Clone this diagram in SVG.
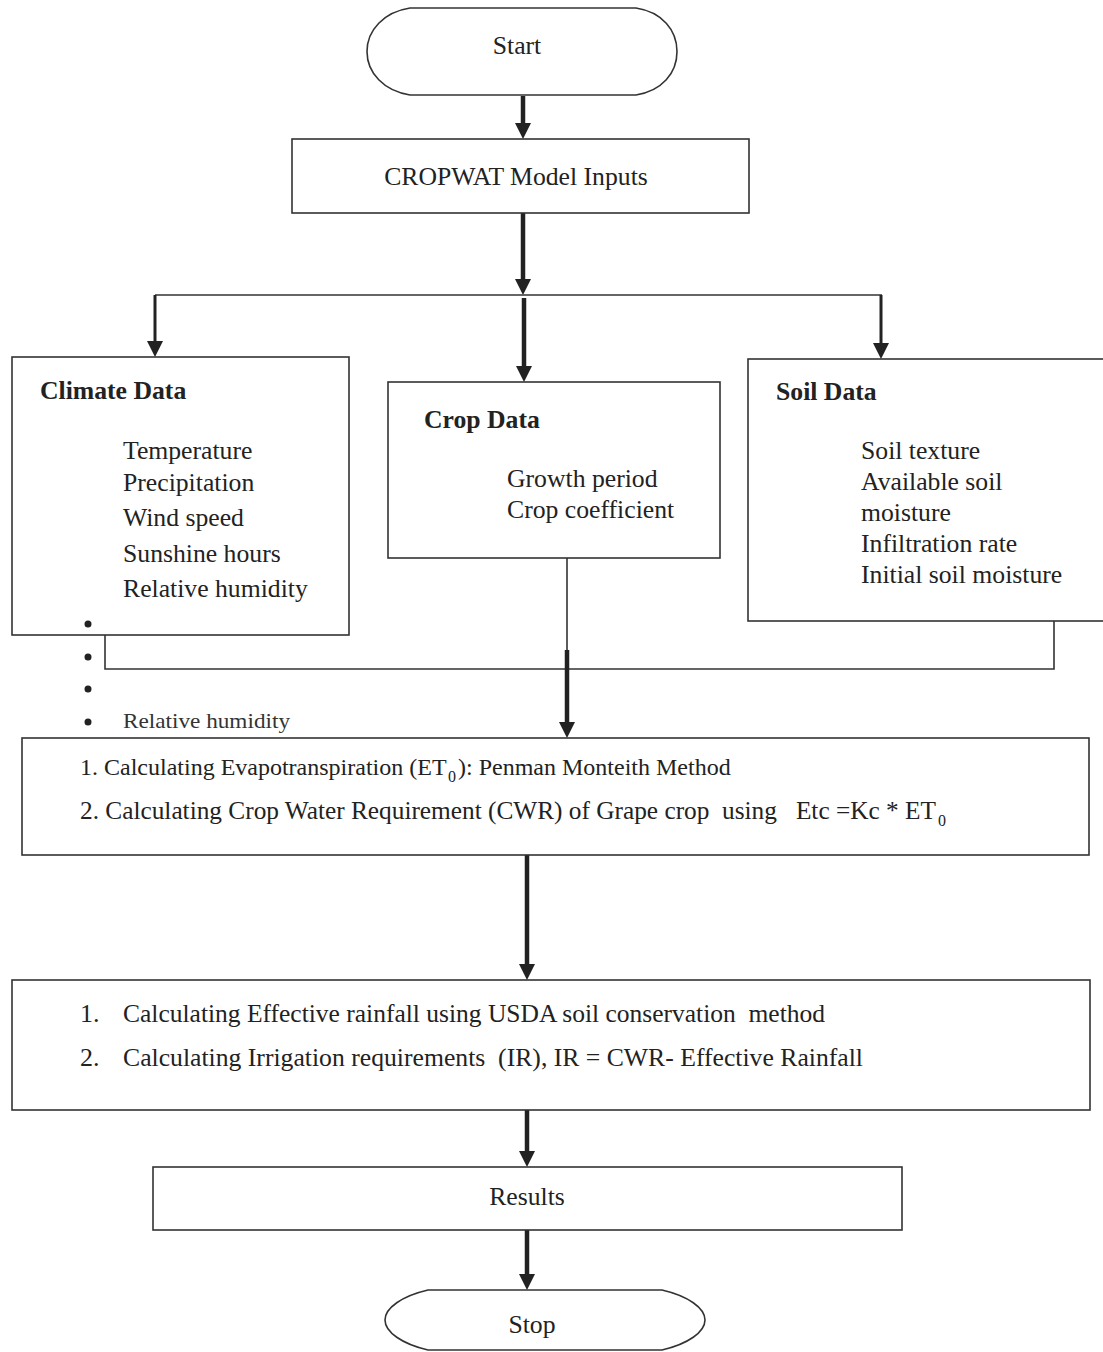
<svg xmlns="http://www.w3.org/2000/svg" width="1103" height="1352" viewBox="0 0 1103 1352">
<style>
.box{fill:#fff;stroke:#333;stroke-width:1.6}
.t{font-family:"Liberation Serif","Times New Roman",serif;fill:#222;font-size:25.7px}
.b{font-weight:bold}
.c{font-size:26px;white-space:pre}
.c24{font-size:24px;white-space:pre}
.c25{font-size:25px;white-space:pre}
.s{font-size:16px}
.thick{stroke:#222;stroke-width:4.5;fill:none}
.med{stroke:#222;stroke-width:3;fill:none}
.thin{stroke:#333;stroke-width:1.6;fill:none}
</style>
<defs>
<marker id="ah" viewBox="0 0 16 16" refX="8" refY="8" markerWidth="16" markerHeight="16" markerUnits="userSpaceOnUse" orient="auto">
<path d="M0,0 L16,8 L0,16 Z" fill="#222"/>
</marker>
</defs>
<rect width="1103" height="1352" fill="#fff"/>
<g id="connectors">
<line class="thick" x1="523" y1="96" x2="523" y2="131" marker-end="url(#ah)"/>
<line class="thick" x1="523" y1="213" x2="523" y2="287" marker-end="url(#ah)"/>
<polyline class="thin" points="155,295 882,295"/>
<line class="med" x1="155" y1="295" x2="155" y2="349" marker-end="url(#ah)"/>
<line class="thick" x1="524" y1="298" x2="524" y2="374" marker-end="url(#ah)"/>
<line class="med" x1="881" y1="295" x2="881" y2="351" marker-end="url(#ah)"/>
<polyline class="thin" points="105,635 105,669 1054,669 1054,621"/>
<line class="thin" x1="567" y1="557" x2="567" y2="651"/>
<line class="thick" x1="567" y1="650" x2="567" y2="730" marker-end="url(#ah)"/>
<line class="thick" x1="527" y1="855" x2="527" y2="972" marker-end="url(#ah)"/>
<line class="thick" x1="527" y1="1110" x2="527" y2="1159" marker-end="url(#ah)"/>
<line class="thick" x1="527" y1="1230" x2="527" y2="1282" marker-end="url(#ah)"/>
</g>
<g id="start">
<path class="box" d="M410,8 L636,8 C662,12 677,30 677,51.5 C677,73 662,91 636,95 L410,95 C384,91 367,73 367,51.5 C367,30 384,12 410,8 Z"/>
<text class="t" x="517" y="54" text-anchor="middle">Start</text>
</g>
<g id="inputs">
<rect class="box" x="292" y="139" width="457" height="74"/>
<text class="t" x="516" y="185" text-anchor="middle">CROPWAT Model Inputs</text>
</g>
<g id="climate">
<rect class="box" x="12" y="357" width="337" height="278"/>
<text class="t b" x="40" y="399">Climate Data</text>
<text class="t" x="123" y="459">Temperature</text>
<text class="t" x="123" y="491">Precipitation</text>
<text class="t" x="123" y="526">Wind speed</text>
<text class="t" x="123" y="562">Sunshine hours</text>
<text class="t" x="123" y="597">Relative humidity</text>
</g>
<g id="bullets">
<circle cx="88" cy="624" r="3.5" fill="#222"/>
<circle cx="88" cy="657" r="3.5" fill="#222"/>
<circle cx="88" cy="689" r="3.5" fill="#222"/>
<circle cx="88" cy="722" r="3.5" fill="#222"/>
<text class="t" x="123" y="728" style="font-size:21px;fill:#333" textLength="167" lengthAdjust="spacingAndGlyphs">Relative humidity</text>
</g>
<g id="crop">
<rect class="box" x="388" y="382" width="332" height="176"/>
<text class="t b" x="424" y="428">Crop Data</text>
<text class="t" x="507" y="487">Growth period</text>
<text class="t" x="507" y="518">Crop coefficient</text>
</g>
<g id="soil">
<rect class="box" x="748" y="359" width="360" height="262"/>
<text class="t b" x="776" y="400">Soil Data</text>
<text class="t" x="861" y="459">Soil texture</text>
<text class="t" x="861" y="490">Available soil</text>
<text class="t" x="861" y="521">moisture</text>
<text class="t" x="861" y="552">Infiltration rate</text>
<text class="t" x="861" y="583">Initial soil moisture</text>
</g>
<g id="calc1">
<rect class="box" x="22" y="738" width="1067" height="117"/>
<text class="t c24" x="80" y="775">1. Calculating Evapotranspiration (ET</text>
<text class="t s" x="448" y="782">0</text>
<text class="t c24" x="458" y="775">): Penman Monteith Method</text>
<text class="t c25" x="80" y="819" textLength="856" lengthAdjust="spacingAndGlyphs">2. Calculating Crop Water Requirement (CWR) of Grape crop  using   Etc =Kc * ET</text>
<text class="t s" x="938" y="826">0</text>
</g>
<g id="calc2">
<rect class="box" x="12" y="980" width="1078" height="130"/>
<text class="t c" x="80" y="1022">1.</text>
<text class="t c" x="123" y="1022" textLength="702" lengthAdjust="spacingAndGlyphs">Calculating Effective rainfall using USDA soil conservation  method</text>
<text class="t c" x="80" y="1066">2.</text>
<text class="t c" x="123" y="1066" textLength="740" lengthAdjust="spacingAndGlyphs">Calculating Irrigation requirements  (IR), IR = CWR- Effective Rainfall</text>
</g>
<g id="results">
<rect class="box" x="153" y="1167" width="749" height="63"/>
<text class="t" x="527" y="1205" text-anchor="middle">Results</text>
</g>
<g id="stop">
<path class="box" d="M428,1290 L662,1290 C688,1296 705,1308 705,1320 C705,1332 688,1344 662,1350 L428,1350 C402,1344 385,1332 385,1320 C385,1308 402,1296 428,1290 Z"/>
<text class="t" x="532" y="1333" text-anchor="middle">Stop</text>
</g>
</svg>
